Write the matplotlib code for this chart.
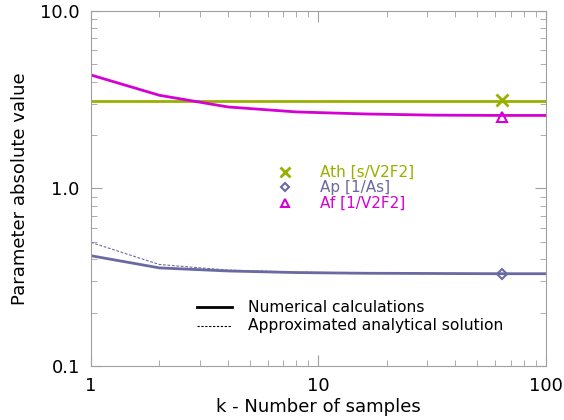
import numpy as np
import matplotlib
matplotlib.use("Agg")
import matplotlib.pyplot as plt
from matplotlib.ticker import NullFormatter

# Data
k = [1, 2, 4, 8, 16, 32, 64, 128]
ath_num = [3.10, 3.10, 3.10, 3.10, 3.10, 3.10, 3.10, 3.10]
af_num = [4.36, 3.35, 2.88, 2.70, 2.63, 2.59, 2.58, 2.58]
ap_num = [0.418, 0.357, 0.343, 0.336, 0.333, 0.332, 0.331, 0.331]
ap_approx = [0.497, 0.373, 0.347, 0.338, 0.334, 0.332, 0.331, 0.331]

# single marker points at k = 64
k_mark = [64]
ath_mark = [3.14]
ap_mark = [0.331]
af_mark = [2.53]

green = '#99b000'
purple = '#6a6aa2'
magenta = '#d400d4'

plt.rcParams['font.family'] = 'DejaVu Sans'
fig = plt.figure(figsize=(5.64, 4.2), dpi=100)
ax = fig.add_axes([0.1613, 0.1286, 0.8067, 0.8452])

ax.plot(k, ath_num, color=green, lw=2)
ax.plot(k, af_num, color=magenta, lw=2)
ax.plot(k, ap_num, color=purple, lw=2)
ax.plot(k, ap_approx, color=purple, lw=0.8, ls=(0, (2.5, 1.5)))

ax.plot(k_mark, ath_mark, 'x', color=green, ms=8, mew=2)
ax.plot(k_mark, ap_mark, 'D', color=purple, ms=5, mew=1.5, mfc='none')
ax.plot(k_mark, af_mark, '^', color=magenta, ms=7, mew=1.5, mfc='none')

ax.set_xscale('log')
ax.set_yscale('log')
ax.set_xlim(1, 100)
ax.set_ylim(0.1, 10)

ax.set_xticks([1, 10, 100])
ax.set_xticklabels(['1', '10', '100'])
ax.set_yticks([0.1, 1, 10])
ax.set_yticklabels(['0.1', '1.0', '10.0'])
ax.xaxis.set_minor_formatter(NullFormatter())
ax.yaxis.set_minor_formatter(NullFormatter())

for s in ax.spines.values():
    s.set_color('#a0a0a0')
ax.tick_params(which='both', direction='in', color='#a0a0a0', top=True, right=True,
               labelsize=13, labelcolor='black')
ax.tick_params(which='major', length=8, pad=8)
ax.tick_params(which='minor', length=4)

ax.set_xlabel('k - Number of samples', fontsize=13, labelpad=2)
ax.set_ylabel('Parameter absolute value', fontsize=13, labelpad=8)

# marker legend
leg_y = [0.546, 0.504, 0.459]
ax.plot([0.426], [leg_y[0]], 'x', color=green, ms=7, mew=2, transform=ax.transAxes)
ax.plot([0.426], [leg_y[1]], 'D', color=purple, ms=4.5, mew=1.5, mfc='none', transform=ax.transAxes)
ax.plot([0.426], [leg_y[2]], '^', color=magenta, ms=6, mew=1.5, mfc='none', transform=ax.transAxes)
ax.text(0.503, leg_y[0], 'Ath [s/V2F2]', color=green, fontsize=11, va='center', transform=ax.transAxes)
ax.text(0.503, leg_y[1], 'Ap [1/As]', color=purple, fontsize=11, va='center', transform=ax.transAxes)
ax.text(0.503, leg_y[2], 'Af [1/V2F2]', color=magenta, fontsize=11, va='center', transform=ax.transAxes)

# line style legend
ax.plot([0.233, 0.310], [0.166, 0.166], color='black', lw=2, transform=ax.transAxes)
ax.plot([0.233, 0.310], [0.113, 0.113], color='black', lw=0.8, ls=(0, (2, 1.5)), transform=ax.transAxes)
ax.text(0.345, 0.166, 'Numerical calculations', fontsize=11.2, va='center', transform=ax.transAxes)
ax.text(0.345, 0.113, 'Approximated analytical solution', fontsize=11.2, va='center', transform=ax.transAxes)

fig.savefig('out.png', dpi=100)
